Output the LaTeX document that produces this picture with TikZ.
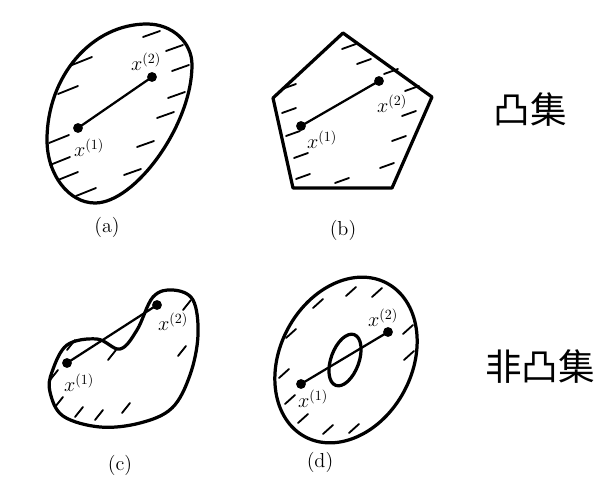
\documentclass[tikz,border=0pt]{standalone}
\usepackage{fontspec}
\newfontfamily\cjkfont{Noto Sans CJK SC}
\usetikzlibrary{calc}

\begin{document}
\begin{tikzpicture}[
  x=0.025cm, y=-0.025cm,
  setline/.style={line width=2.3pt, line join=round},
  hatchmark/.style={line width=1.3pt, line cap=round},
  chord/.style={line width=1.6pt},
  ptdot/.style={circle, fill=black, inner sep=0pt, minimum size=7pt},
  ptlabel/.style={font=\Large, inner sep=1pt},
  figlabel/.style={font=\Large},
  cjklabel/.style={font=\cjkfont\fontsize{26}{30}\selectfont},
]
\useasboundingbox (0,0) rectangle (602,492);

% ===== (a) egg: convex =====
\draw[setline] (147,24) .. controls (172,24) and (192,42) .. (192,65)
  .. controls (192,125) and (135,203) .. (95,203)
  .. controls (69,203) and (47,175) .. (47,140)
  .. controls (47,76) and (92,24) .. cycle;
\foreach \x/\y in {72/65, 58/94, 49/143, 50/165, 58/180, 76/196}
  \draw[hatchmark] (\x,\y) -- ++(20,-8);
\foreach \x/\y in {143/37, 166/51, 172/71, 168/98, 157/118, 137/147, 124/175}
  \draw[hatchmark] (\x,\y) -- ++(17,-6);
\node[ptdot] (a1) at (78,128) {};
\node[ptdot] (a2) at (152,77) {};
\draw[chord] (a1.center) -- (a2.center);
\node[ptlabel] (la2) at (146,62) {$x^{(2)}$};
\node[ptlabel] (la1) at (89,148) {$x^{(1)}$};
\node[figlabel] (capa) at (107,227) {(a)};

% ===== (b) pentagon: convex =====
\draw[setline] (343,33) -- (432,97) -- (392,188) -- (293,188) -- (273,98) -- cycle;
\foreach \x/\y in {342/49, 357/64, 282/89, 282/113, 286/136, 294/158, 296/179,
                   335/183, 380/168, 392/141, 402/116, 405/91, 384/74}
  \draw[hatchmark] (\x,\y) -- ++(14,-5);
\node[ptdot] (b1) at (301,126) {};
\node[ptdot] (b2) at (379,81) {};
\draw[chord] (b1.center) -- (b2.center);
\node[ptlabel] (lb2) at (392,104) {$x^{(2)}$};
\node[ptlabel] (lb1) at (322,140) {$x^{(1)}$};
\node[figlabel] (capb) at (343,230) {(b)};

% ===== (c) kidney: not convex =====
\draw[setline] plot[smooth cycle, tension=0.6] coordinates {
  (52,372) (67,345) (97,339) (120,349) (137,330) (153,297) (173,290)
  (193,300) (198,335) (190,375) (172,408) (140,423) (100,427) (63,416) (50,392)};
\foreach \x/\y in {67/350, 50/380, 55/407, 75/417, 95/420, 122/413, 108/360,
                   178/356, 183/310}
  \draw[hatchmark] (\x,\y) -- ++(8,-10);
\node[ptdot] (c1) at (67,363) {};
\node[ptdot] (c2) at (157,305) {};
\draw[chord] (c1.center) -- (c2.center);
\node[ptlabel] (lc2) at (173,322) {$x^{(2)}$};
\node[ptlabel] (lc1) at (79,383) {$x^{(1)}$};
\node[figlabel] (capc) at (120,465) {(c)};

% ===== (d) ring: not convex =====
\draw[setline] (346,360) ellipse [x radius=87, y radius=66, rotate=62];
\draw[setline] (345,360) ellipse [x radius=27, y radius=14, rotate=70];
\foreach \x/\y in {346/296, 372/297, 313/308, 286/338, 279/378, 285/404,
                   298/423, 323/434, 349/433, 403/334, 404/360}
  \draw[hatchmark] (\x,\y) -- ++(10,-9);
\node[ptdot] (d1) at (301,384) {};
\node[ptdot] (d2) at (388,332) {};
\draw[chord] (d1.center) -- (d2.center);
\node[ptlabel] (ld2) at (383,318) {$x^{(2)}$};
\node[ptlabel] (ld1) at (313,399) {$x^{(1)}$};
\node[figlabel] (capd) at (320,462) {(d)};

% ===== row titles =====
\node[cjklabel] (convex) at (530,110) {凸集};
\node[cjklabel] (nonconvex) at (540,367) {非凸集};
\end{tikzpicture}
\end{document}
